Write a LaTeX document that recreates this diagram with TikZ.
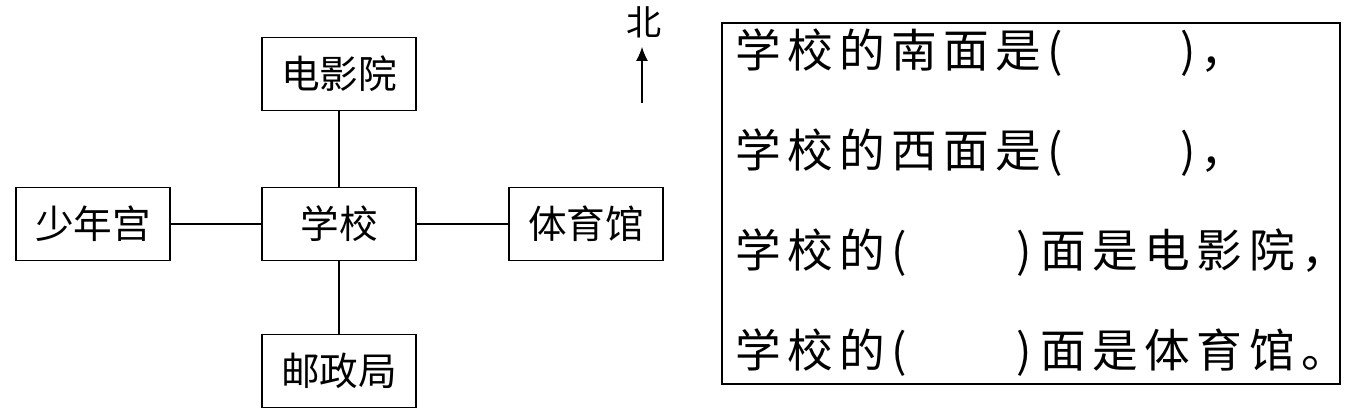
\documentclass[tikz,border=0pt]{standalone}
\usepackage{fontspec}
\newfontfamily\cjk{Noto Sans CJK SC}
\newfontfamily\cjkwide[LetterSpace=14]{Noto Sans CJK SC}
\usetikzlibrary{arrows.meta}
\tikzset{
  place/.style={draw,line width=0.8pt,minimum width=3.08cm,minimum height=1.46cm,
    inner sep=0pt,font=\cjk\fontsize{22}{22}\selectfont},
  road/.style={line width=0.6pt},
  blank/.style={anchor=west,inner sep=0pt,font=\cjkwide\fontsize{26}{26}\selectfont}
}
\begin{document}
\begin{tikzpicture}[x=0.02cm,y=-0.02cm]
  \useasboundingbox (0,0) rectangle (1350,419);
  % map
  \node[place] (school) at (339,224) {学校};
  \node[place] (cinema) at (339,74) {电影院};
  \node[place] (palace) at (93,224) {少年宫};
  \node[place] (gym) at (586,224) {体育馆};
  \node[place] (post) at (339,371) {邮政局};
  \foreach \p in {cinema,palace,gym,post}
    \draw[road] (school) -- (\p);
  % north
  \node[font=\cjk\fontsize{20}{20}\selectfont,inner sep=0pt] (bei) at (644,22) {北};
  \coordinate (ntail) at (642,103);
  \coordinate (ntip) at (642,47);
  \draw[road,-{Latex[length=2.8mm,width=2.4mm]}] (ntail) -- (ntip);
  % questions
  \draw[line width=0.6pt] (722,23) rectangle (1340,384);
  \node[blank] (q1a) at (735,53) {学校的南面是(};
  \node[blank] (q1b) at (1180,53) {)\hspace{0.1cm}，};
  \node[blank] (q2a) at (735,153) {学校的西面是(};
  \node[blank] (q2b) at (1180,153) {)\hspace{0.1cm}，};
  \node[blank] (q3a) at (735,253) {学校的(};
  \node[blank] (q3b) at (1016,253) {)\hspace{0.18cm}面是电影院，};
  \node[blank] (q4a) at (735,353) {学校的(};
  \node[blank] (q4b) at (1016,353) {)\hspace{0.18cm}面是体育馆。};
\end{tikzpicture}
\end{document}
